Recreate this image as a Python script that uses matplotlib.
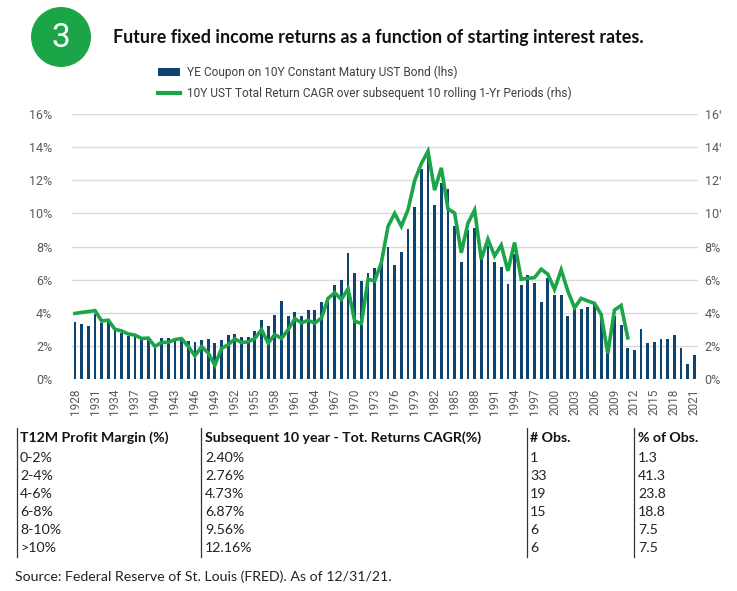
import matplotlib
matplotlib.use("Agg")
import matplotlib.pyplot as plt
from matplotlib.patches import Ellipse, Rectangle, Patch
from matplotlib.lines import Line2D

# --- datos ---
years = list(range(1928, 2022))

# cupon fin de anio bono 10Y (lhs), 1928-2021
coupon = [
    3.45, 3.35, 3.22, 3.93, 3.36, 3.55, 3.00, 2.80, 2.62, 2.62,    # 1928-1937
    2.42, 2.36, 2.02, 2.48, 2.48, 2.43, 2.44, 2.32, 2.25, 2.38,    # 1938-1947
    2.43, 2.17, 2.37, 2.68, 2.74, 2.56, 2.52, 2.92, 3.59, 3.23,    # 1948-1957
    3.85, 4.70, 3.82, 4.06, 3.82, 4.14, 4.18, 4.63, 4.64, 5.69,    # 1958-1967
    6.00, 7.62, 6.37, 5.90, 6.37, 6.71, 7.00, 7.98, 6.86, 7.66,    # 1968-1977
    9.03, 10.38, 12.70, 13.50, 10.53, 11.82, 11.50, 9.24, 7.08, 8.99,  # 1978-1987
    9.09, 7.30, 8.02, 7.07, 6.77, 5.76, 7.55, 5.68, 6.28, 5.78,    # 1988-1997
    4.65, 6.12, 5.08, 5.05, 3.82, 4.22, 4.22, 4.37, 4.50, 3.95,    # 1998-2007
    1.65, 3.80, 3.27, 1.85, 1.73, 3.03, 2.15, 2.26, 2.42, 2.40,    # 2008-2017
    2.66, 1.90, 0.90, 1.47,                                        # 2018-2021
]

# CAGR retorno total 10 anios siguientes (rhs), 1928-2011
cagr_years = list(range(1928, 2012))
cagr = [
    3.96, 4.02, 4.07, 4.13, 3.50, 3.55, 3.00, 2.90, 2.72, 2.65,    # 1928-1937
    2.45, 2.47, 1.97, 2.21, 2.21, 2.38, 2.44, 1.97, 1.40, 1.95,    # 1938-1947
    1.57, 0.83, 1.85, 2.07, 2.42, 2.20, 2.24, 2.45, 2.98, 2.17,    # 1948-1957
    2.68, 2.45, 2.98, 3.64, 3.39, 3.54, 3.37, 3.68, 4.87, 5.21,    # 1958-1967
    4.81, 5.45, 3.49, 3.35, 6.02, 5.92, 7.03, 9.22, 10.00, 9.22,   # 1968-1977
    10.22, 11.98, 13.00, 13.75, 11.40, 12.75, 10.27, 10.02, 7.62, 9.41,  # 1978-1987
    10.20, 7.23, 8.44, 7.43, 8.08, 6.53, 8.24, 6.02, 6.08, 6.12,   # 1988-1997
    6.63, 6.32, 5.41, 6.59, 5.31, 4.30, 4.87, 4.71, 4.57, 3.90,    # 1998-2007
    1.54, 4.16, 4.44, 2.48,                                        # 2008-2011
]

yticks = [0, 2, 4, 6, 8, 10, 12, 14, 16]
xtick_years = list(range(1928, 2022, 3))

# tabla inferior
tab_header = ["T12M Profit Margin (%)", "Subsequent 10 year - Tot. Returns CAGR(%)", "# Obs.", "% of Obs."]
tab_bucket = ["0-2%", "2-4%", "4-6%", "6-8%", "8-10%", ">10%"]
tab_cagr = ["2.40%", "2.76%", "4.73%", "6.87%", "9.56%", "12.16%"]
tab_obs = ["1", "33", "19", "15", "6", "6"]
tab_pct = ["1.3", "41.3", "23.8", "18.8", "7.5", "7.5"]

titulo = "Future fixed income returns as a function of starting interest rates."
fuente = "Source: Federal Reserve of St. Louis (FRED). As of 12/31/21."
lbl_bar = "YE Coupon on 10Y Constant Matury UST Bond (lhs)"
lbl_line = "10Y UST Total Return CAGR over subsequent 10 rolling 1-Yr Periods (rhs)"

# --- colores y fuentes ---
AZUL = "#0f4470"
VERDE = "#1ba548"
GRIS = "#595959"
plt.rcParams["font.family"] = ["Roboto", "DejaVu Sans"]

W, H = 737, 591
fig = plt.figure(figsize=(W / 100, H / 100), dpi=100)

def fx(px):
    return px / W

def fy(py):
    return 1 - py / H

# eje principal
ax = fig.add_axes([fx(71.7), fy(379), fx(626), 265 / H])
ax.bar(years, coupon, width=0.42, color=AZUL, zorder=2)
ax.set_xlim(1927.5, 2021.5)
ax.set_ylim(0, 16)
ax.set_yticks(yticks)
ax.set_yticklabels([f"{v}%" for v in yticks])
ax.set_xticks(xtick_years)
ax.set_xticklabels([str(y) for y in xtick_years], rotation=90)
ax.grid(axis="y", color="#d9d9d9", linewidth=1.0, zorder=0)
ax.set_axisbelow(True)
ax.tick_params(axis="y", length=0, pad=14, labelsize=9, labelcolor=GRIS)
ax.tick_params(axis="x", length=0, pad=7, labelsize=8.5, labelcolor=GRIS)
for s in ax.spines.values():
    s.set_visible(False)

ax2 = ax.twinx()
ax2.plot(cagr_years, cagr, color=VERDE, linewidth=2.6, solid_joinstyle="miter", zorder=3)
ax2.set_ylim(0, 16)
ax2.set_yticks(yticks)
ax2.set_yticklabels([f"{v}%" for v in yticks])
ax2.tick_params(axis="y", length=0, pad=5, labelsize=9, labelcolor=GRIS)
for s in ax2.spines.values():
    s.set_visible(False)

# leyenda
handles = [Patch(facecolor=AZUL, edgecolor="none", label=lbl_bar),
           Line2D([0], [0], color=VERDE, linewidth=3, label=lbl_line)]
fig.legend(handles=handles, loc="upper left", bbox_to_anchor=(fx(158), fy(66)),
           frameon=False, fontsize=8.6, labelcolor="#404040", handlelength=1.8,
           handleheight=0.6, labelspacing=0.6, handletextpad=0.6,
           borderpad=0, borderaxespad=0)

# titulo con circulo
fig.add_artist(Ellipse((fx(61), fy(37)), 60 / W, 60 / H, facecolor=VERDE, edgecolor="none"))
fig.text(fx(61), fy(38), "3", color="white", fontsize=24, ha="center", va="center",
         family="Roboto")
fig.text(fx(113), fy(37), titulo, fontsize=12.9, fontweight="bold", color="#111111",
         ha="left", va="center", family="Lato")

# tabla
col_x = [20, 205, 530, 638]
sep_x = [17, 201, 527, 634]
row_y = [438, 458, 476, 494, 512, 530, 548]
for x, t in zip(col_x, tab_header):
    fig.text(fx(x), fy(row_y[0]), t, fontsize=10.2, fontweight="bold", family="Lato",
             color="#111111", ha="left", va="center")
for i in range(len(tab_bucket)):
    fila = [tab_bucket[i], tab_cagr[i], tab_obs[i], tab_pct[i]]
    for x, t in zip(col_x, fila):
        fig.text(fx(x), fy(row_y[i + 1]), t, fontsize=10.2, family="Lato",
                 color="#222222", ha="left", va="center")
for x in sep_x:
    fig.add_artist(Line2D([fx(x), fx(x)], [fy(428), fy(557)], color="#333333", linewidth=0.9))

fig.text(fx(15), fy(577), fuente, fontsize=10.2, family="Lato", color="#222222",
         ha="left", va="center")

# borde derecho recortado como en la captura original
fig.add_artist(Rectangle((fx(721), 0), 1 - fx(721), 1, facecolor="white",
                         edgecolor="none", zorder=10))

fig.savefig("out.png", dpi=100)
